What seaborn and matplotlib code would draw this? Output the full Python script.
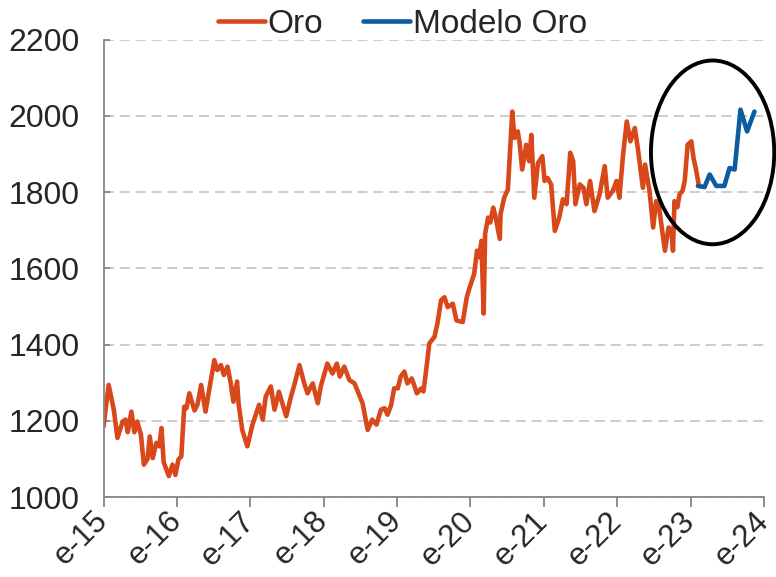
import matplotlib
matplotlib.use("Agg")
import matplotlib.pyplot as plt
from matplotlib.patches import Ellipse
import seaborn as sns
import pandas as pd

# ---- data (decimal years, USD/oz) ----
oro_t = [2015.00, 2015.07, 2015.14, 2015.19, 2015.26, 2015.30, 2015.33, 2015.38, 2015.42, 2015.46,
         2015.51, 2015.55, 2015.60, 2015.63, 2015.67, 2015.72, 2015.76, 2015.79, 2015.82, 2015.89,
         2015.94, 2015.98, 2016.02, 2016.06, 2016.10, 2016.13, 2016.17, 2016.24, 2016.28, 2016.33,
         2016.39, 2016.44, 2016.51, 2016.55, 2016.60, 2016.64, 2016.69, 2016.73, 2016.77, 2016.82,
         2016.84, 2016.89, 2016.96, 2017.03, 2017.12, 2017.17, 2017.21, 2017.28, 2017.33, 2017.39,
         2017.49, 2017.55, 2017.60, 2017.67, 2017.735, 2017.78, 2017.85, 2017.92, 2017.96, 2018.05,
         2018.12, 2018.18, 2018.22, 2018.28, 2018.35, 2018.42, 2018.53, 2018.60, 2018.66, 2018.72,
         2018.78, 2018.83, 2018.87, 2018.92, 2018.96, 2019.01, 2019.05, 2019.10, 2019.14, 2019.20,
         2019.24, 2019.27, 2019.33, 2019.36, 2019.40, 2019.44, 2019.51, 2019.55, 2019.60, 2019.645,
         2019.69, 2019.76, 2019.81, 2019.895, 2019.95, 2019.99, 2020.05, 2020.09, 2020.12, 2020.15,
         2020.18, 2020.20, 2020.24, 2020.27, 2020.31, 2020.34, 2020.40, 2020.41, 2020.46, 2020.51,
         2020.57, 2020.60, 2020.645, 2020.67, 2020.705, 2020.76, 2020.80, 2020.83, 2020.87, 2020.92,
         2020.98, 2021.01, 2021.05, 2021.10, 2021.15, 2021.21, 2021.26, 2021.31, 2021.36, 2021.40,
         2021.43, 2021.49, 2021.54, 2021.58, 2021.63, 2021.69, 2021.76, 2021.83, 2021.87, 2021.94,
         2021.99, 2022.03, 2022.08, 2022.13, 2022.18, 2022.24, 2022.28, 2022.35, 2022.38, 2022.44,
         2022.49, 2022.53, 2022.57, 2022.62, 2022.65, 2022.70, 2022.74, 2022.76, 2022.78, 2022.82,
         2022.85, 2022.89, 2022.92, 2022.96, 2023.01, 2023.04, 2023.07, 2023.11]
oro_v = [1185, 1294, 1229, 1155, 1198, 1203, 1170, 1224, 1170, 1198,
         1163, 1085, 1100, 1159, 1102, 1142, 1133, 1181, 1091, 1055,
         1085, 1058, 1098, 1107, 1237, 1233, 1272, 1227, 1242, 1294,
         1224, 1281, 1359, 1333, 1346, 1320, 1342, 1303, 1250, 1303,
         1246, 1176, 1133, 1190, 1242, 1203, 1263, 1290, 1229, 1276,
         1212, 1260, 1294, 1346, 1298, 1272, 1298, 1246, 1290, 1350,
         1324, 1350, 1316, 1342, 1307, 1298, 1246, 1176, 1203, 1190,
         1229, 1233, 1216, 1242, 1285, 1285, 1316, 1329, 1298, 1311,
         1290, 1272, 1285, 1277, 1338, 1403, 1420, 1455, 1516, 1524,
         1498, 1507, 1463, 1459, 1524, 1550, 1585, 1646, 1629, 1672,
         1481, 1690, 1733, 1720, 1759, 1737, 1677, 1742, 1785, 1807,
         2011, 1942, 1959, 1929, 1859, 1924, 1881, 1950, 1785, 1876,
         1894, 1829, 1837, 1820, 1698, 1733, 1781, 1768, 1903, 1881,
         1768, 1820, 1811, 1768, 1829, 1750, 1794, 1868, 1785, 1803,
         1829, 1785, 1898, 1985, 1933, 1968, 1916, 1811, 1872, 1803,
         1707, 1776, 1760, 1690, 1646, 1707, 1698, 1646, 1776, 1760,
         1794, 1803, 1829, 1924, 1933, 1889, 1863, 1820]

modelo_t = [2023.10, 2023.19, 2023.26, 2023.35, 2023.46, 2023.53, 2023.60, 2023.68, 2023.77, 2023.87]
modelo_v = [1816, 1813, 1846, 1816, 1816, 1863, 1859, 2016, 1959, 2011]

series_names = ["Oro", "Modelo Oro"]
series_colors = ["#D9481B", "#0B5CA0"]
year_ticks = [2015, 2016, 2017, 2018, 2019, 2020, 2021, 2022, 2023, 2024]
year_labels = ["e-15", "e-16", "e-17", "e-18", "e-19", "e-20", "e-21", "e-22", "e-23", "e-24"]
y_ticks = [1000, 1200, 1400, 1600, 1800, 2000, 2200]

df = pd.concat([
    pd.DataFrame({"t": oro_t, "v": oro_v, "serie": series_names[0]}),
    pd.DataFrame({"t": modelo_t, "v": modelo_v, "serie": series_names[1]}),
], ignore_index=True)

sns.set_style("white")
plt.rcParams["font.family"] = ["Liberation Sans", "DejaVu Sans"]

fig = plt.figure(figsize=(7.76, 5.77), dpi=100)
ax = fig.add_axes([0.1334, 0.1386, 0.8511, 0.7929])

sns.lineplot(data=df, x="t", y="v", hue="serie", palette=dict(zip(series_names, series_colors)),
             estimator=None, sort=False, linewidth=3.3, ax=ax)

ax.set_xlim(2015, 2024)
ax.set_ylim(1000, 2200)
ax.set_xticks(year_ticks)
ax.set_xticklabels(year_labels, rotation=45, ha="right", va="center", rotation_mode="anchor")
ax.set_yticks(y_ticks)
ax.set_xlabel("")
ax.set_ylabel("")

for s in ["top", "right"]:
    ax.spines[s].set_visible(False)
for s in ["left", "bottom"]:
    ax.spines[s].set_color("#868686")
    ax.spines[s].set_linewidth(1.3)

ax.tick_params(axis="x", direction="out", length=7, width=1.3, color="#868686",
               labelsize=22.5, pad=7, bottom=True)
ax.tick_params(axis="y", direction="in", length=4.5, width=1.3, color="#868686",
               labelsize=23, pad=17, left=True)

ax.yaxis.grid(True, color="#C3C3C3", linewidth=1.2, linestyle=(0, (6, 3.5)))
ax.xaxis.grid(False)
ax.set_axisbelow(True)

ell = Ellipse((2023.30, 1904), width=1.68, height=482, fill=False, edgecolor="black",
              linewidth=2.8, clip_on=False, zorder=5)
ax.add_patch(ell)

leg = ax.legend(loc="center", bbox_to_anchor=(0.4527, 1.033), ncol=2, frameon=False,
                fontsize=24, handlelength=1.4, handletextpad=0.08, columnspacing=1.2,
                borderaxespad=0, borderpad=0)
for line in leg.get_lines():
    line.set_linewidth(3.3)

fig.savefig("out.png", dpi=100)
